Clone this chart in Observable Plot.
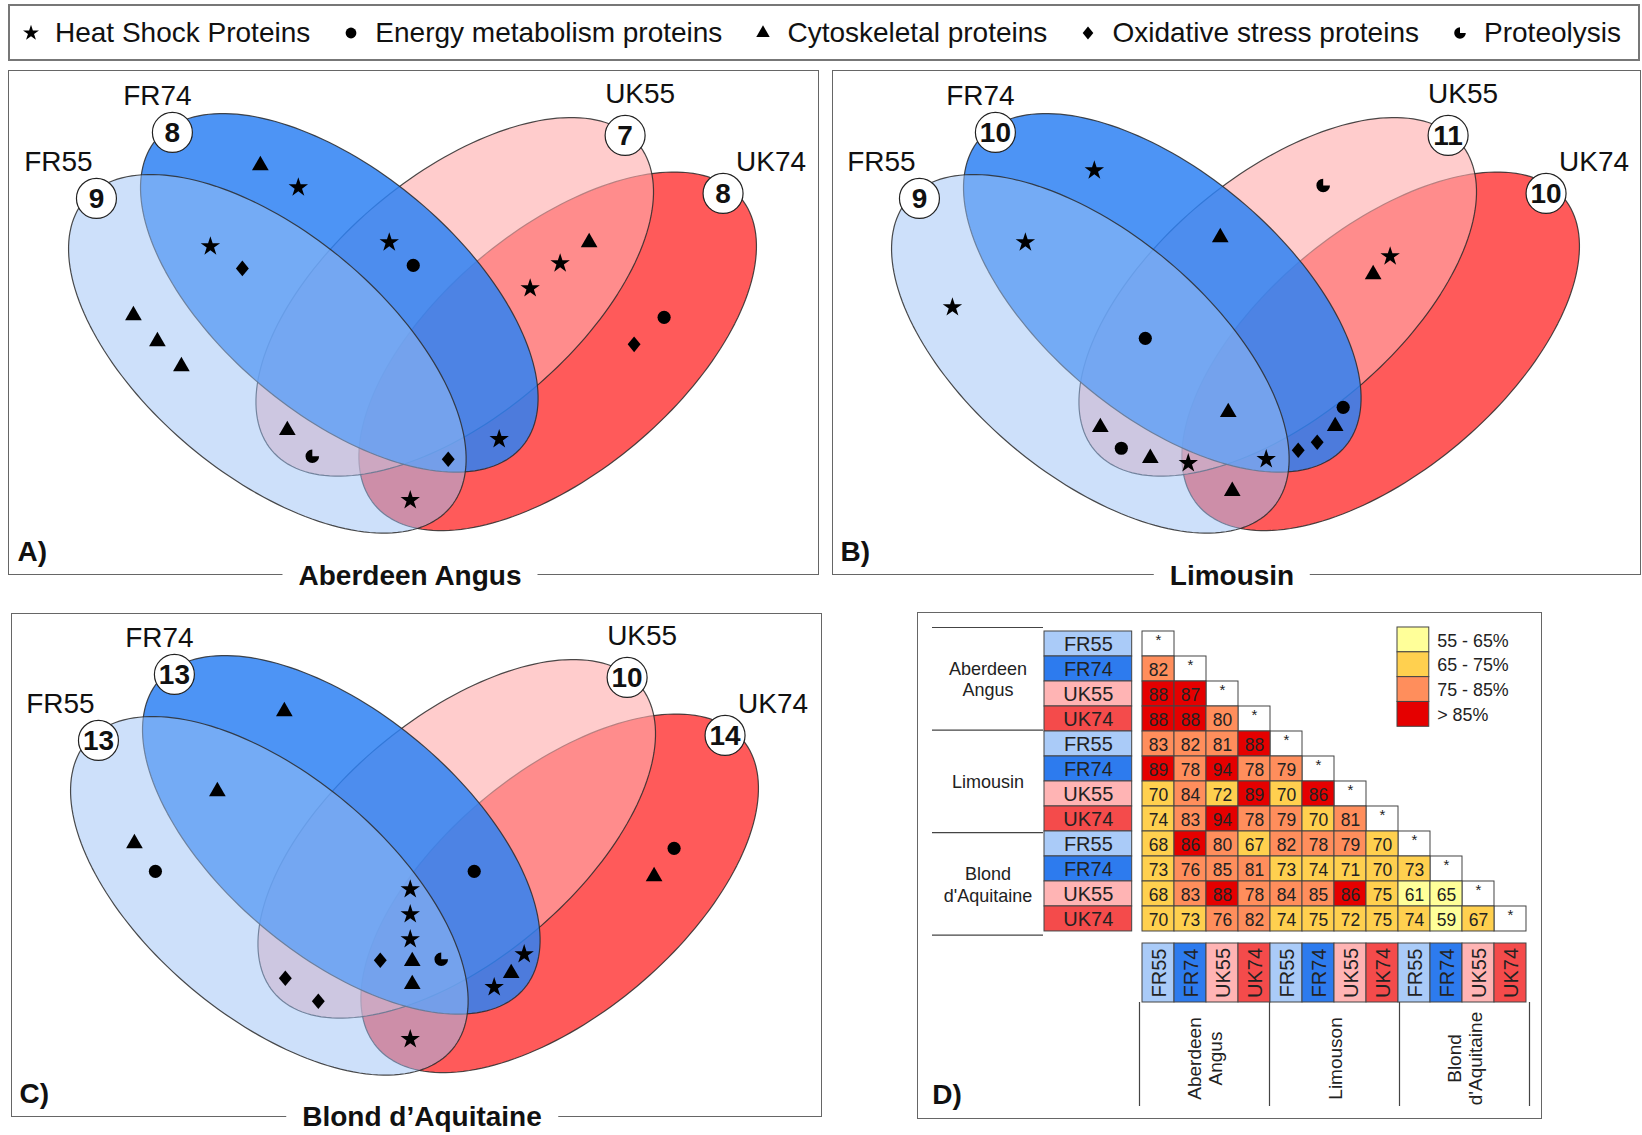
<!DOCTYPE html>
<html><head><meta charset="utf-8">
<script src="https://cdn.jsdelivr.net/npm/d3@7"></script>
<script src="https://cdn.jsdelivr.net/npm/@observablehq/plot@0.6"></script>
<style>
body{margin:0;background:#fff;font-family:"Liberation Sans",Arial,sans-serif;color:#111;}
#page{position:relative;width:1642px;height:1135px;overflow:hidden;background:#fff;}
.box{position:absolute;border:1.5px solid #666;box-sizing:border-box;}
.abs{position:absolute;}
.title{position:absolute;transform:translate(-50%,-50%);background:#fff;padding:0 16px;font-weight:bold;font-size:28px;line-height:32px;white-space:nowrap;color:#111;}
#legend{position:absolute;left:8px;top:4px;width:1632px;height:57px;border:2px solid #777;box-sizing:border-box;display:flex;align-items:center;justify-content:space-between;padding:0 17px 0 11px;font-size:28px;color:#111;}
.item{display:flex;align-items:center;white-space:nowrap;}
.item svg{margin-right:14px;}
.plabel{position:absolute;font-weight:bold;font-size:28px;line-height:32px;color:#111;}
</style></head>
<body><div id="page"></div>
<script>
// ---------------- DATA ----------------
const categories = ["Heat Shock Proteins","Energy metabolism proteins","Cytoskeletal proteins","Oxidative stress proteins","Proteolysis"];
const categoryKeys = ["star","circle","triangle","diamond","pacman"];
const sets = ["FR55","FR74","UK55","UK74"];
const breeds = ["Aberdeen Angus","Limousin","Blond d’Aquitaine"];
const panelLetters = ["A)","B)","C)"];
const countsA = [9,8,7,8];
const countsB = [9,10,11,10];
const countsC = [13,13,10,14];
// symbol placements inside each Venn panel (type, x, y in the panel's 811x505 frame)
const symbolsA = [["triangle",252,95],["star",290,117],["star",202,176],["diamond",234,198],["star",381,172],["circle",405,195],["triangle",581,172],["star",552,193],["star",522,218],["circle",656,247],["diamond",626,274],["triangle",125,245],["triangle",149,271],["triangle",173,296],["triangle",279,360],["pacman",304,386],["diamond",440,389],["star",491,369],["star",402,430]];
const symbolsB = [["star",263,100],["star",194,172],["star",121,237],["circle",314,268],["triangle",389,167],["pacman",492,115],["star",559,186],["triangle",542,204],["triangle",397,342],["circle",512,337],["triangle",504,356],["diamond",486,372],["diamond",467,380],["star",435,389],["triangle",269,357],["circle",290,378],["triangle",319,388],["star",357,393],["triangle",401,421]];
const symbolsC = [["triangle",274,99],["triangle",207,179],["triangle",124,231],["circle",145,259],["circle",464,259],["star",400,277],["star",400,302],["star",400,327],["diamond",370,348],["triangle",402,349],["pacman",431,347],["triangle",402,372],["diamond",275,366],["diamond",308,389],["star",514,342],["triangle",501,361],["star",484,375],["star",400,427],["circle",664,236],["triangle",644,264]];

// Panel D
const rowGroups = ["Aberdeen\nAngus","Limousin","Blond\nd'Aquitaine"];
const colGroups = ["Aberdeen\nAngus","Limouson","Blond\nd'Aquitaine"];
const matrixRows = [
  [],
  [82],
  [88,87],
  [88,88,80],
  [83,82,81,88],
  [89,78,94,78,79],
  [70,84,72,89,70,86],
  [74,83,94,78,79,70,81],
  [68,86,80,67,82,78,79,70],
  [73,76,85,81,73,74,71,70,73],
  [68,83,88,78,84,85,86,75,61,65],
  [70,73,76,82,74,75,72,75,74,59,67]
];
const binLabels = ["55 - 65%","65 - 75%","75 - 85%","> 85%"];
const binUpper = [65,75,85,100];

// ---------------- STYLE ----------------
const FONT = '"Liberation Sans", Arial, sans-serif';
const binColors = ["#ffff99","#ffd04f","#ff8e5c","#e50000"];
const sampleColors = ["#aacbf8","#2d7bee","#ffb4b4","#f44b4b"];
const ellipseStyle = {
  FR55:{cx:259,cy:283.5,rot:40,fill:"#9bc1f5",op:0.5},
  FR74:{cx:331,cy:222.5,rot:40,fill:"#2e81f3",op:0.85},
  UK55:{cx:446.5,cy:226.5,rot:-40,fill:"#ffacac",op:0.61},
  UK74:{cx:549.5,cy:281,rot:-40,fill:"#ff5a5a",op:1}
};
const drawOrder = ["UK74","UK55","FR74","FR55"];
const labelPos = {FR55:[50,92],FR74:[149,26],UK55:[632,24],UK74:[763,92]};
const badgePos = {FR55:[88,128],FR74:[164,62],UK55:[617,65],UK74:[715,123]};
const panelBoxes = [
  {left:8.4,top:70.2,w:811,h:505,tx:410,ty:576},
  {left:831.5,top:70.2,w:809,h:505,tx:1232,ty:576},
  {left:10.5,top:612.6,w:811.5,h:504,tx:422,ty:1117}
];

const pacman = {draw(ctx,size){const r=Math.sqrt(size/Math.PI);ctx.moveTo(0,0);ctx.lineTo(r,0);ctx.arc(0,0,r,0,1.5*Math.PI);ctx.closePath();}};
const rhombus = {draw(ctx,size){const r=Math.sqrt(size/Math.PI);const w=r*0.95,h=r*1.15;ctx.moveTo(0,-h);ctx.lineTo(w,0);ctx.lineTo(0,h);ctx.lineTo(-w,0);ctx.closePath();}};
const symbolObj = {star:d3.symbolStar,circle:d3.symbolCircle,triangle:d3.symbolTriangle,diamond:rhombus,pacman:pacman};
const symbolR = {star:6.1,circle:6.6,triangle:6.2,diamond:6.8,pacman:6.8};
const legendR = {star:5.0,circle:5.4,triangle:5.0,diamond:5.6,pacman:5.8};

const page = document.getElementById("page");

// ---------------- TOP LEGEND ----------------
const legend = document.createElement("div");
legend.id = "legend";
categories.forEach((c,i)=>{
  const item = document.createElement("div"); item.className="item";
  const svg = d3.create("svg").attr("width",20).attr("height",20);
  const r = legendR[categoryKeys[i]];
  svg.append("path").attr("transform","translate(10,10)")
    .attr("d", d3.symbol(symbolObj[categoryKeys[i]], Math.PI*r*r)()).attr("fill","#000");
  item.appendChild(svg.node());
  const t = document.createElement("span"); t.textContent = c; item.appendChild(t);
  legend.appendChild(item);
});
page.appendChild(legend);

// ---------------- VENN PANELS ----------------
function ellipsePts(cx,cy,a,b,deg){
  const t = deg*Math.PI/180;
  return d3.range(0,361,2).map(k=>{const u=k*Math.PI/180;
    return {x:cx + a*Math.cos(u)*Math.cos(t) - b*Math.sin(u)*Math.sin(t),
            y:cy + a*Math.cos(u)*Math.sin(t) + b*Math.sin(u)*Math.cos(t)};});
}
function vennPlot(i, counts, symbols){
  const B = panelBoxes[i];
  const W = B.w, H = B.h;
  const marks = [];
  for (const s of drawOrder){
    const e = ellipseStyle[s];
    marks.push(Plot.line(ellipsePts(e.cx,e.cy,239,121,e.rot),{x:"x",y:"y",fill:e.fill,fillOpacity:e.op,stroke:"#2a2a2a",strokeWidth:1.2,strokeOpacity:0.85}));
  }
  const pts = symbols.map(([type,x,y])=>({type,x,y}));
  for (const k of categoryKeys){
    marks.push(Plot.dot(pts.filter(d=>d.type===k),{x:"x",y:"y",symbol:symbolObj[k],r:symbolR[k],fill:"#000",stroke:"none"}));
  }
  const badges = sets.map((s,j)=>({x:badgePos[s][0],y:badgePos[s][1],n:counts[j]}));
  marks.push(Plot.dot(badges,{x:"x",y:"y",r:20,fill:"white",stroke:"#222",strokeWidth:1.2}));
  marks.push(Plot.text(badges,{x:"x",y:"y",text:d=>String(d.n),fontSize:28,fontWeight:"bold",fill:"#111",dy:1}));
  const labels = sets.map(s=>({x:labelPos[s][0],y:labelPos[s][1],s}));
  marks.push(Plot.text(labels,{x:"x",y:"y",text:"s",fontSize:28,fill:"#111"}));
  marks.push(Plot.text([panelLetters[i]],{x:()=>9,y:()=>482,text:d=>d,fontSize:28,fontWeight:"bold",textAnchor:"start",fill:"#111"}));
  return Plot.plot({width:W,height:H,margin:0,
    x:{domain:[0,W],range:[0,W]}, y:{domain:[0,H],range:[0,H]}, axis:null,
    style:{fontFamily:FONT,background:"transparent",overflow:"visible"}, marks});
}
[[countsA,symbolsA],[countsB,symbolsB],[countsC,symbolsC]].forEach(([c,s],i)=>{
  const B = panelBoxes[i];
  const box = document.createElement("div"); box.className="box";
  Object.assign(box.style,{left:B.left+"px",top:B.top+"px",width:B.w+"px",height:B.h+"px"});
  const p = vennPlot(i,c,s);
  const holder = document.createElement("div"); holder.className="abs";
  holder.style.left="-1.5px"; holder.style.top="-1.5px";
  holder.appendChild(p); box.appendChild(holder);
  page.appendChild(box);
  const t = document.createElement("div"); t.className="title"; t.textContent = breeds[i];
  t.style.left=B.tx+"px"; t.style.top=B.ty+"px";
  page.appendChild(t);
});

// ---------------- PANEL D ----------------
const D = {left:917.3,top:611.6,w:625.2,h:507.8};
const boxD = document.createElement("div"); boxD.className="box";
Object.assign(boxD.style,{left:D.left+"px",top:D.top+"px",width:D.w+"px",height:D.h+"px"});
page.appendChild(boxD);
function putD(node,x,y){const h=document.createElement("div");h.className="abs";h.style.left=(x-1.5)+"px";h.style.top=(y-1.5)+"px";h.appendChild(node);boxD.appendChild(h);}
const plotStyle = {fontFamily:FONT,background:"transparent",overflow:"visible"};
const rowH = 25.64, colW = 32.5, nS = 12;
const sampleRows = d3.range(nS).map(i=>({i, sample:sets[i%4]}));
const binOf = v => binLabels[binUpper.findIndex(u=>v<=u)];
const offCells = [], diagCells = [];
matrixRows.forEach((r,i)=>{ r.forEach((v,j)=>offCells.push({row:i,col:j,v})); diagCells.push({row:i,col:i}); });

// matrix
putD(Plot.plot({width:nS*colW+2,height:nS*rowH+2,margin:1,axis:null,
  x:{domain:d3.range(nS),padding:0}, y:{domain:d3.range(nS),padding:0},
  color:{type:"ordinal",domain:binLabels,range:binColors},
  style:plotStyle,
  marks:[
    Plot.cell(diagCells,{x:"col",y:"row",fill:"white",stroke:"#444",strokeWidth:1,inset:0}),
    Plot.cell(offCells,{x:"col",y:"row",fill:d=>binOf(d.v),stroke:"#444",strokeWidth:1,inset:0}),
    Plot.text(offCells,{x:"col",y:"row",text:d=>String(d.v),fontSize:17.5,fill:"#222",dy:1}),
    Plot.text(diagCells,{x:"col",y:"row",text:()=>"*",fontSize:15,fill:"#222",dy:-4})
  ]}), 221.2, 14.7);

// row labels
putD(Plot.plot({width:89.7,height:nS*rowH+2,margin:1,axis:null,
  y:{domain:d3.range(nS),padding:0},
  color:{type:"ordinal",domain:sets,range:sampleColors},
  style:plotStyle,
  marks:[
    Plot.cell(sampleRows,{y:"i",fill:"sample",stroke:"#444",strokeWidth:1,inset:0}),
    Plot.text(sampleRows,{y:"i",text:"sample",fontSize:20,fill:"#222",dy:1})
  ]}), 126.3, 14.7);

// left group labels + separators
putD(Plot.plot({width:113,height:nS*rowH+2,margin:1,axis:null,
  x:{domain:[0,1]}, y:{domain:[0,nS],range:[1,nS*rowH+1]},
  style:plotStyle,
  marks:[
    Plot.ruleY(d3.range(0,nS+1,4),{stroke:"#444",strokeWidth:1.2}),
    Plot.text(rowGroups,{y:(d,i)=>i*4+2,text:d=>d,fontSize:18,fill:"#222",lineHeight:1.2})
  ]}), 14.7, 14.7);

// column headers
putD(Plot.plot({width:nS*colW+2,height:61,margin:1,axis:null,
  x:{domain:d3.range(nS),padding:0},
  color:{type:"ordinal",domain:sets,range:sampleColors},
  style:plotStyle,
  marks:[
    Plot.cell(sampleRows,{x:"i",fill:"sample",stroke:"#444",strokeWidth:1,inset:0}),
    Plot.text(sampleRows,{x:"i",text:"sample",rotate:-90,fontSize:20,fill:"#222",dx:1})
  ]}), 221.2, 331.4);

// bottom group labels
putD(Plot.plot({width:nS*colW+2,height:106,margin:1,axis:null,
  x:{domain:[0,nS],range:[1,nS*colW+1]}, y:{domain:[0,1]},
  style:plotStyle,
  marks:[
    Plot.ruleX(d3.range(0,nS+1,4),{stroke:"#444",strokeWidth:1.2}),
    Plot.text(colGroups,{x:(d,i)=>i*4+2,text:d=>d,rotate:-90,fontSize:19,fill:"#222",lineHeight:1.15,dy:4})
  ]}), 221.2, 390.4);

// legend for D
putD(Plot.plot({width:146,height:4*25.5+2,marginTop:1,marginBottom:1,marginLeft:1,marginRight:113,axis:null,
  y:{domain:binLabels,padding:0},
  color:{type:"ordinal",domain:binLabels,range:binColors},
  style:plotStyle,
  marks:[
    Plot.cell(binLabels,{y:d=>d,fill:d=>d,stroke:"#444",strokeWidth:1,inset:0}),
    Plot.text(binLabels,{y:d=>d,text:d=>d,frameAnchor:"right",dx:8,textAnchor:"start",fontSize:18,fill:"#222",dy:1})
  ]}), 479.7, 14.4);

const dl = document.createElement("div"); dl.className="plabel"; dl.textContent="D)";
dl.style.left="14px"; dl.style.top="466px";
boxD.appendChild(dl);
</script>
</body></html>
